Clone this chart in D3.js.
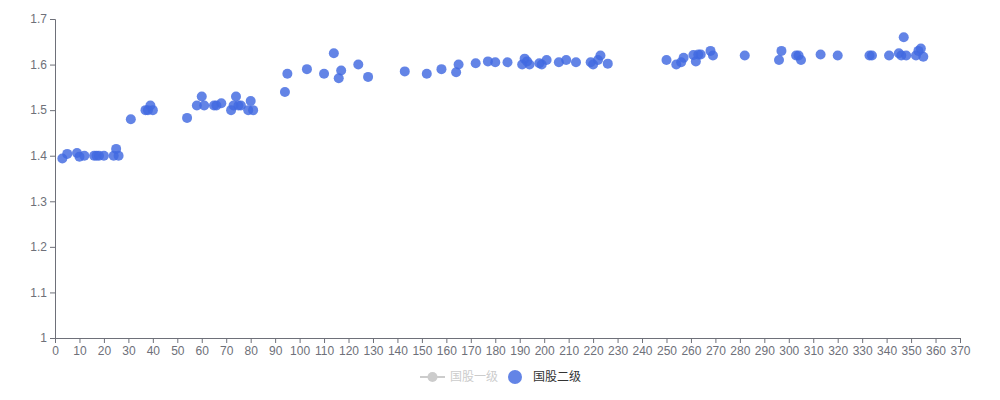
<!DOCTYPE html>
<html>
<head>
<meta charset="utf-8">
<script src="https://cdn.jsdelivr.net/npm/d3@7"></script>
<style>
  html, body { margin: 0; padding: 0; background: #fff; }
  svg { display: block; font-family: "Noto Sans", "Noto Sans CJK SC", sans-serif; }
</style>
</head>
<body>
<svg id="chart" width="1000" height="400"></svg>
<script>
// Series names (legend)
const seriesNames = ["国股一级", "国股二级"];
// Series 2 ("国股二级") points: days, rate (%)
const days = [
  3, 5, 9, 10, 12, 16, 17, 18, 20, 24, 25, 26, 31, 37, 38, 39, 40,
  54, 58, 60, 61, 65, 66, 68, 72, 73, 74, 75, 76, 79, 80, 81, 94,
  95, 103, 110, 114, 116, 117, 124, 128, 143,
  152, 158, 164, 165, 172, 177, 180, 185, 191, 192, 193, 194, 198, 199, 201,
  206, 209, 213, 219, 220, 222, 223, 226,
  250, 254, 256, 257, 261, 262, 263, 264, 268, 269, 282, 296, 297, 303, 304, 305, 313, 320,
  333, 334, 341, 345, 346, 347, 348, 352, 353, 354, 355
];
const rates = [
  1.394, 1.404, 1.406, 1.398, 1.400, 1.400, 1.400, 1.400, 1.400, 1.400, 1.415, 1.400, 1.480, 1.500, 1.500, 1.510, 1.500,
  1.483, 1.510, 1.530, 1.510, 1.510, 1.510, 1.515, 1.500, 1.510, 1.530, 1.510, 1.510, 1.500, 1.520, 1.500, 1.540,
  1.580, 1.590, 1.580, 1.625, 1.570, 1.587, 1.600, 1.573, 1.585,
  1.580, 1.590, 1.583, 1.600, 1.603, 1.607, 1.605, 1.605, 1.600, 1.613, 1.607, 1.600, 1.603, 1.600, 1.610,
  1.605, 1.610, 1.605, 1.605, 1.600, 1.610, 1.620, 1.602,
  1.610, 1.600, 1.605, 1.615, 1.621, 1.607, 1.622, 1.622, 1.630, 1.620, 1.620, 1.610, 1.630, 1.620, 1.620, 1.610, 1.622, 1.620,
  1.620, 1.620, 1.620, 1.625, 1.620, 1.660, 1.620, 1.620, 1.630, 1.635, 1.617
];
// Axis ticks
const xTicks = d3.range(0, 371, 10);
const yTicks = [1, 1.1, 1.2, 1.3, 1.4, 1.5, 1.6, 1.7];

const svg = d3.select("#chart");
const axisColor = "#6E7079";
const pointColor = "#4169E1";

const x = d3.scaleLinear().domain([0, 370]).range([55, 960]);
const y = d3.scaleLinear().domain([1, 1.7]).range([338, 19]);

// X axis
const gx = svg.append("g").attr("transform", `translate(0,${y(1)})`)
  .call(d3.axisBottom(x).tickValues(xTicks).tickSize(5).tickPadding(3).tickFormat(d3.format("d")));
gx.select(".domain").attr("stroke", axisColor);
gx.selectAll(".tick line").attr("stroke", axisColor);
gx.selectAll(".tick text").attr("fill", axisColor).attr("font-size", 12);

// Y axis
const gy = svg.append("g").attr("transform", `translate(${x(0)},0)`)
  .call(d3.axisLeft(y).tickValues(yTicks).tickSize(5).tickPadding(3).tickFormat(d => d3.format("")(+d.toFixed(1))));
gy.select(".domain").attr("stroke", axisColor);
gy.selectAll(".tick line").attr("stroke", axisColor);
gy.selectAll(".tick text").attr("fill", axisColor).attr("font-size", 12);

// Points
svg.append("g").selectAll("circle")
  .data(days.map((d, i) => [d, rates[i]]))
  .join("circle")
  .attr("cx", d => x(d[0]))
  .attr("cy", d => y(d[1]))
  .attr("r", 5)
  .attr("fill", pointColor)
  .attr("fill-opacity", 0.82);

// Legend
const lg = svg.append("g").attr("transform", "translate(0,377)");
// series 1 (disabled)
lg.append("line").attr("x1", 420).attr("x2", 445).attr("y1", 0).attr("y2", 0)
  .attr("stroke", "#ccc").attr("stroke-width", 2);
lg.append("circle").attr("cx", 432.5).attr("cy", 0).attr("r", 5).attr("fill", "#ccc");
lg.append("text").attr("x", 450).attr("y", 0).attr("dy", "0.35em")
  .attr("font-size", 12).attr("fill", "#ccc").text(seriesNames[0]);
// series 2
lg.append("circle").attr("cx", 515).attr("cy", 0).attr("r", 7)
  .attr("fill", pointColor).attr("fill-opacity", 0.82);
lg.append("text").attr("x", 533).attr("y", 0).attr("dy", "0.35em")
  .attr("font-size", 12).attr("fill", "#333").text(seriesNames[1]);
</script>
</body>
</html>
